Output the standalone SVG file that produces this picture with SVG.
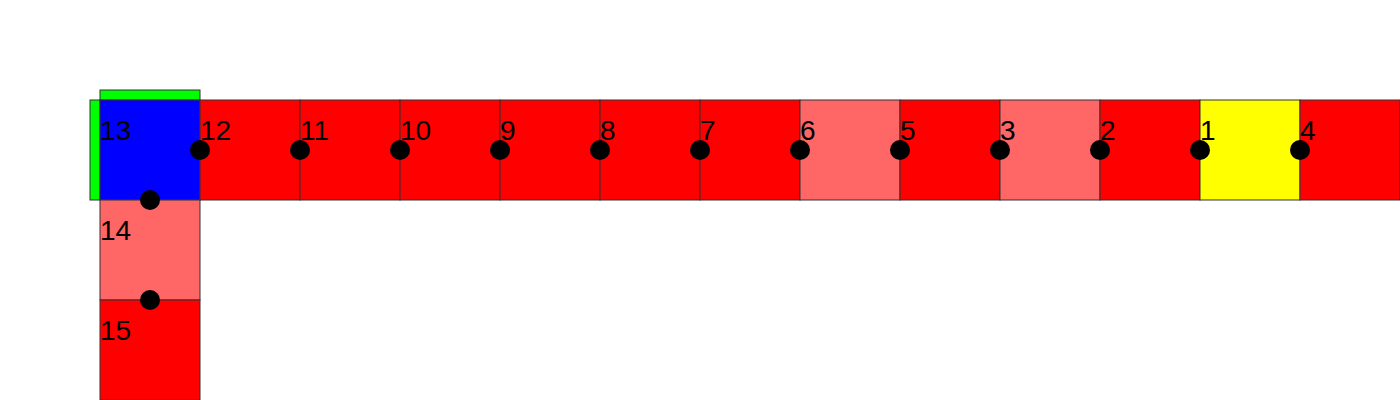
<svg xmlns="http://www.w3.org/2000/svg" width="1400" height="400" viewBox="0 0 1400 400">
<style>
rect{stroke:#333;stroke-width:1}
.r{fill:#ff0000}
.l{fill:#ff6666}
.b{fill:#0000ff}
.y{fill:#ffff00}
.g{fill:#00ff00}
text{font-family:"Liberation Sans",Arial,sans-serif;font-size:28px;fill:#000}
.dot{fill:#000}
</style>
<rect width="1400" height="400" fill="#fff" style="stroke:none"/>
<g id="n13"><rect class="g" x="100" y="90" width="100" height="10"/><rect class="g" x="90" y="100" width="10" height="100"/><rect class="b" x="100" y="100" width="100" height="100"/><text x="100" y="140">13</text></g>
<g id="n12"><rect class="r" x="200" y="100" width="100" height="100"/><text x="200" y="140">12</text></g>
<g id="n11"><rect class="r" x="300" y="100" width="100" height="100"/><text x="300" y="140">11</text></g>
<g id="n10"><rect class="r" x="400" y="100" width="100" height="100"/><text x="400" y="140">10</text></g>
<g id="n9"><rect class="r" x="500" y="100" width="100" height="100"/><text x="500" y="140">9</text></g>
<g id="n8"><rect class="r" x="600" y="100" width="100" height="100"/><text x="600" y="140">8</text></g>
<g id="n7"><rect class="r" x="700" y="100" width="100" height="100"/><text x="700" y="140">7</text></g>
<g id="n6"><rect class="l" x="800" y="100" width="100" height="100"/><text x="800" y="140">6</text></g>
<g id="n5"><rect class="r" x="900" y="100" width="100" height="100"/><text x="900" y="140">5</text></g>
<g id="n3"><rect class="l" x="1000" y="100" width="100" height="100"/><text x="1000" y="140">3</text></g>
<g id="n2"><rect class="r" x="1100" y="100" width="100" height="100"/><text x="1100" y="140">2</text></g>
<g id="n1"><rect class="y" x="1200" y="100" width="100" height="100"/><text x="1200" y="140">1</text></g>
<g id="n4"><rect class="r" x="1300" y="100" width="100" height="100"/><text x="1300" y="140">4</text></g>
<g id="n14"><rect class="l" x="100" y="200" width="100" height="100"/><text x="100" y="240">14</text></g>
<g id="n15"><rect class="r" x="100" y="300" width="100" height="100"/><text x="100" y="340">15</text></g>
<g id="connectors">
<circle class="dot" cx="200" cy="150" r="10"/>
<circle class="dot" cx="300" cy="150" r="10"/>
<circle class="dot" cx="400" cy="150" r="10"/>
<circle class="dot" cx="500" cy="150" r="10"/>
<circle class="dot" cx="600" cy="150" r="10"/>
<circle class="dot" cx="700" cy="150" r="10"/>
<circle class="dot" cx="800" cy="150" r="10"/>
<circle class="dot" cx="900" cy="150" r="10"/>
<circle class="dot" cx="1000" cy="150" r="10"/>
<circle class="dot" cx="1100" cy="150" r="10"/>
<circle class="dot" cx="1200" cy="150" r="10"/>
<circle class="dot" cx="1300" cy="150" r="10"/>
<circle class="dot" cx="150" cy="200" r="10"/>
<circle class="dot" cx="150" cy="300" r="10"/>
</g>
</svg>
